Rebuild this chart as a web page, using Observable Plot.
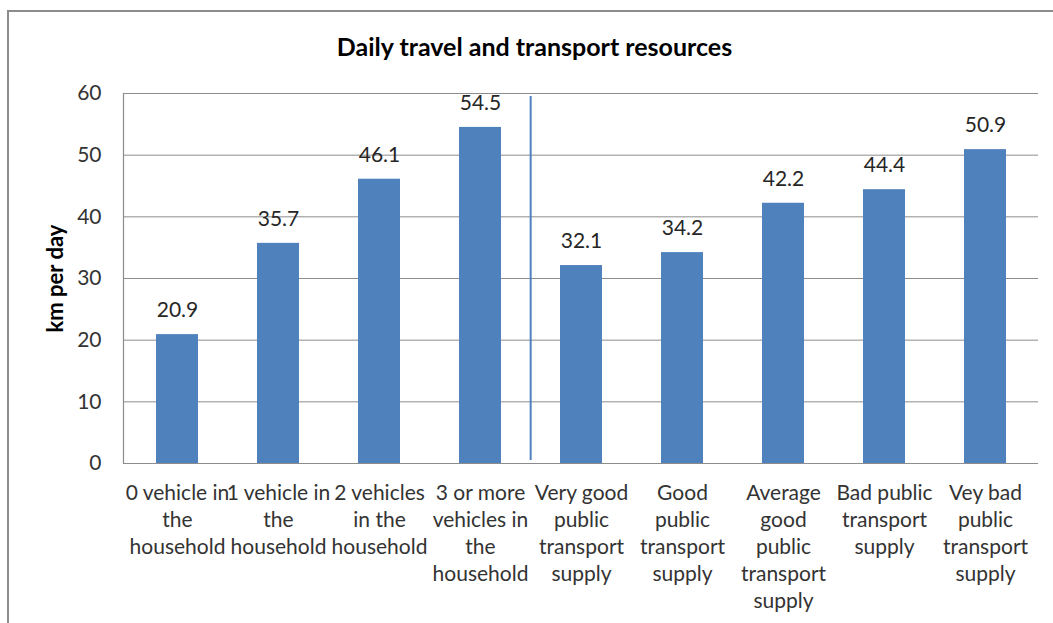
<!DOCTYPE html>
<html>
<head>
<meta charset="utf-8">
<script src="https://cdn.jsdelivr.net/npm/d3@7"></script>
<script src="https://cdn.jsdelivr.net/npm/@observablehq/plot@0.6"></script>
<style>
  html, body { margin: 0; padding: 0; background: #fff; overflow: hidden; }
  #wrap { position: relative; width: 1053px; height: 623px; }
  #border { position: absolute; left: 7px; top: 10px; width: 1200px; height: 800px; border: 2px solid #8c8c8c; box-sizing: border-box; pointer-events: none; }
  #chart { position: absolute; left: 0; top: 0; }
</style>
</head>
<body>
<div id="wrap"><div id="chart"></div><div id="border"></div></div>
<script>
const title = "Daily travel and transport resources";
const yLabel = "km per day";
const categories = [
  "0 vehicle in the household",
  "1 vehicle in the household",
  "2 vehicles in the household",
  "3 or more vehicles in the household",
  "Very good public transport supply",
  "Good public transport supply",
  "Average good public transport supply",
  "Bad public transport supply",
  "Vey bad public transport supply"
];
const tickLabels = [
  "0 vehicle in\nthe\nhousehold",
  "1 vehicle in\nthe\nhousehold",
  "2 vehicles\nin the\nhousehold",
  "3 or more\nvehicles in\nthe\nhousehold",
  "Very good\npublic\ntransport\nsupply",
  "Good\npublic\ntransport\nsupply",
  "Average\ngood\npublic\ntransport\nsupply",
  "Bad public\ntransport\nsupply",
  "Vey bad\npublic\ntransport\nsupply"
];
const values = [20.9, 35.7, 46.1, 54.5, 32.1, 34.2, 42.2, 44.4, 50.9];
const yTicks = [0, 10, 20, 30, 40, 50, 60];
const separatorAfter = categories[4];

const data = categories.map((c, i) => ({category: c, value: values[i]}));
const labelOf = new Map(categories.map((c, i) => [c, tickLabels[i]]));

const font = "Lato, 'Open Sans', sans-serif";
const step = (1053 - 123 - 15) / categories.length;

const chart = Plot.plot({
  width: 1053,
  height: 623,
  marginLeft: 123,
  marginRight: 15,
  marginTop: 93,
  marginBottom: 160,
  style: {fontFamily: font, background: "#fff", color: "#262626", overflow: "visible"},
  x: {domain: categories, paddingInner: 0.587, paddingOuter: 0.2935, label: null},
  y: {domain: [0, 60], label: null},
  marks: [
    Plot.gridY(yTicks, {stroke: "#8c8c8c", strokeOpacity: 1, strokeWidth: 1}),
    Plot.frame({anchor: "left", stroke: "#8c8c8c", strokeWidth: 1.2}),
    Plot.barY(data, {x: "category", y: "value", fill: "#4F81BD"}),
    Plot.ruleY([0], {stroke: "#8c8c8c", strokeWidth: 1.2}),
    Plot.ruleX([separatorAfter], {y1: 0, y2: 60, dx: -step / 2, insetBottom: -3, insetTop: -3, stroke: "#4F81BD", strokeWidth: 2}),
    Plot.text(data, {x: "category", y: "value", text: d => d.value.toFixed(1), dy: -24, lineAnchor: "middle", fontSize: 21, fill: "#262626"}),
    Plot.axisY(yTicks, {tickSize: 0, tickPadding: 22, fontSize: 21, fill: "#333", label: null}),
    Plot.axisX({tickSize: 0, tickPadding: 17, fontSize: 21, lineHeight: 1.29, fill: "#333", tickFormat: d => labelOf.get(d), label: null}),
    Plot.text([yLabel], {frameAnchor: "left", dx: -68, rotate: -90, textAnchor: "middle", lineAnchor: "middle", fontSize: 22, fontWeight: "bold", fill: "#000", text: d => d}),
    Plot.text([title], {frameAnchor: "top-left", dx: 411, dy: -46, textAnchor: "middle", lineAnchor: "middle", fontSize: 25, fontWeight: "bold", fill: "#000", text: d => d})
  ]
});
document.getElementById("chart").appendChild(chart);
</script>
</body>
</html>
